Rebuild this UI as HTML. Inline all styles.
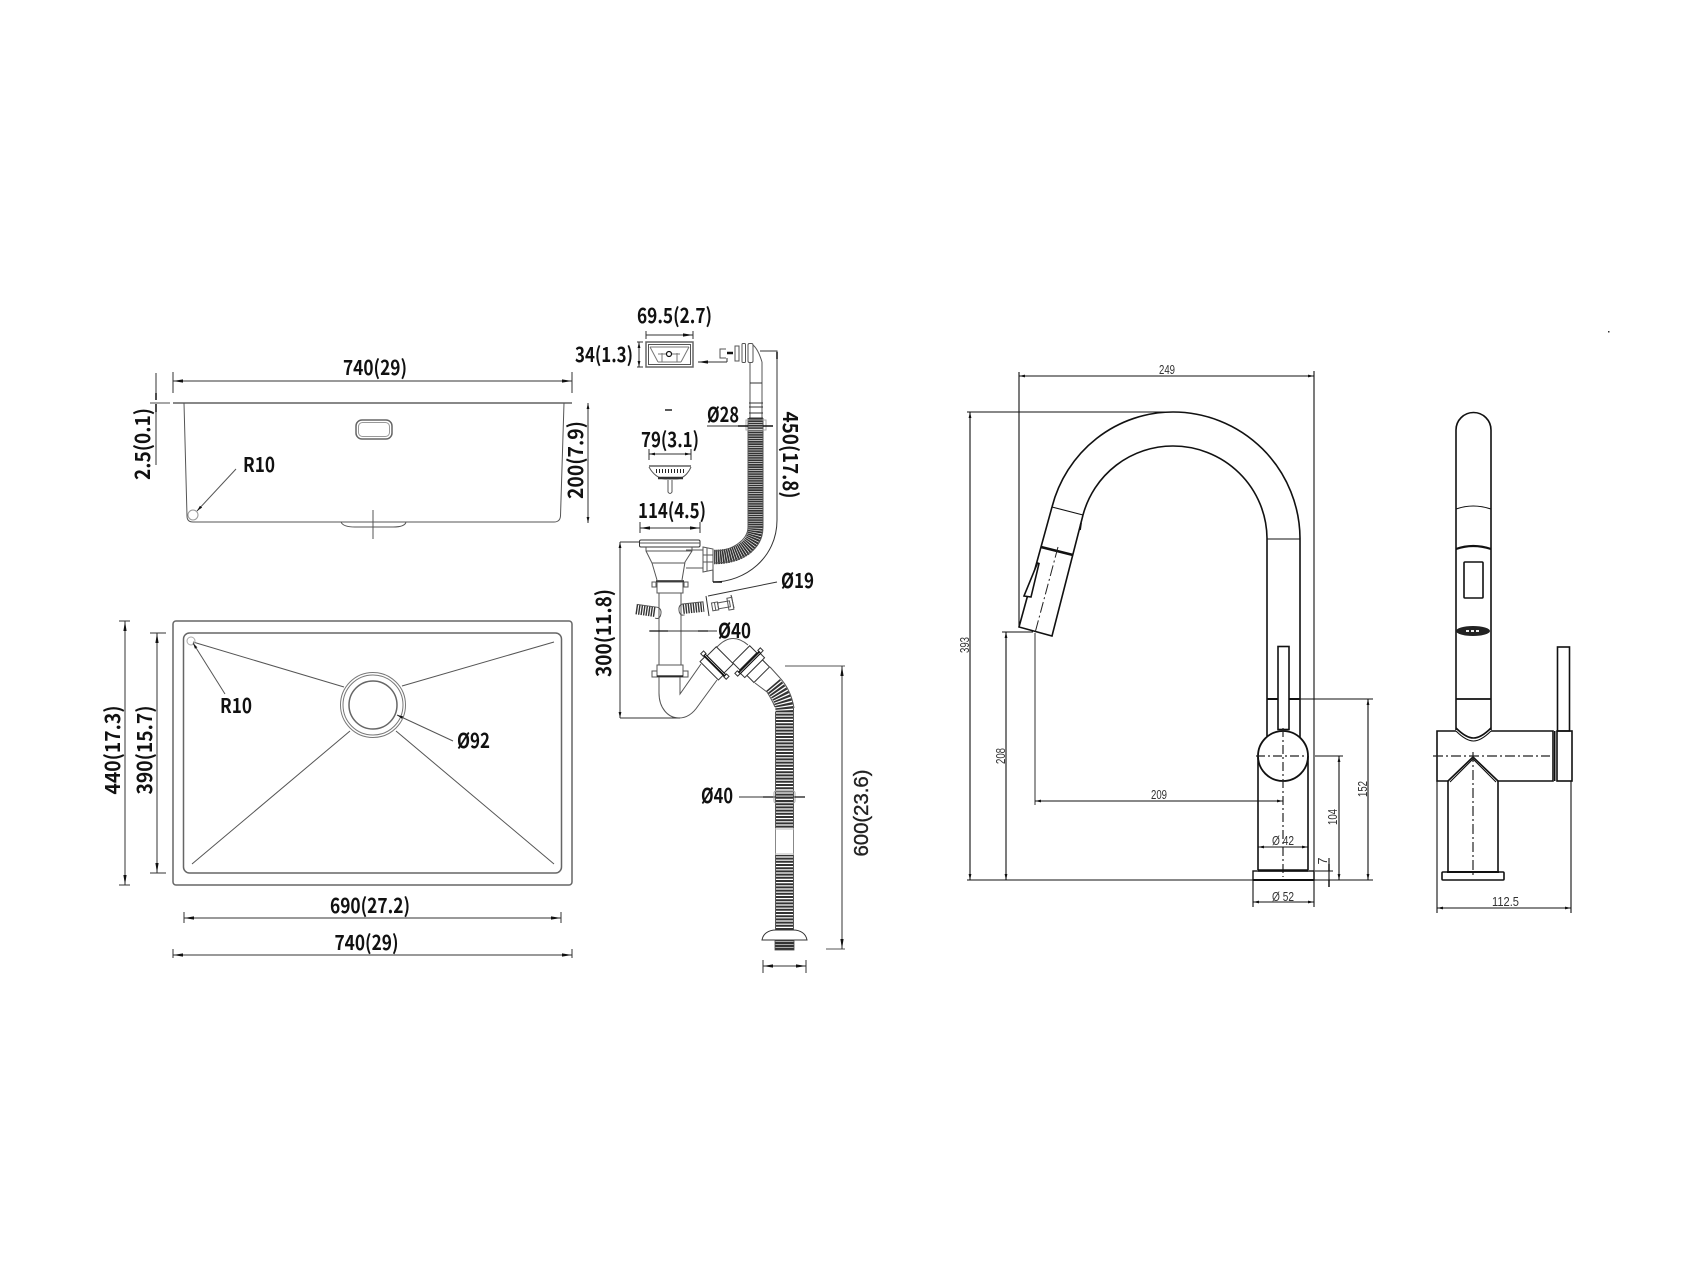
<!DOCTYPE html>
<html><head><meta charset="utf-8"><style>
html,body{margin:0;padding:0;background:#fff;width:1707px;height:1280px;overflow:hidden}
svg{display:block}
.b{font-family:"Noto Sans CJK SC","Liberation Sans",sans-serif;font-weight:700;font-size:20.5px;fill:#111}
.n{font-family:"Liberation Sans",sans-serif;font-size:20px;fill:#222;stroke:#222;stroke-width:.35}
.s{font-family:"Liberation Sans",sans-serif;font-size:12.5px;fill:#333}
.g{stroke:#666;fill:none;stroke-width:1.5}
.t{stroke:#555;fill:none;stroke-width:1}
.d{stroke:#333;fill:none;stroke-width:1}
.k{stroke:#111;fill:none;stroke-width:1.6}
.f{stroke:#111;fill:none;stroke-width:1.1}
.w{stroke:#333;fill:#fff;stroke-width:1}
</style></head><body>
<svg width="1707" height="1280" viewBox="0 0 1707 1280" xmlns="http://www.w3.org/2000/svg">
<defs>
<marker id="a" viewBox="0 0 10 4" refX="10" refY="2" markerWidth="10" markerHeight="4" markerUnits="userSpaceOnUse" orient="auto-start-reverse"><path d="M10 2L0 0.4V3.6Z" fill="#111"/></marker>
<marker id="c" viewBox="0 0 6 4" refX="6" refY="2" markerWidth="6" markerHeight="4" markerUnits="userSpaceOnUse" orient="auto-start-reverse"><path d="M6 2L0 0.6V3.4Z" fill="#111"/></marker>
<pattern id="hs" width="4" height="3" patternUnits="userSpaceOnUse"><rect width="4" height="3" fill="#aaa"/><rect width="4" height="2" fill="#333"/></pattern>
</defs>

<!-- SINK SIDE VIEW -->
<path class="d" d="M173 372V393M572 372V393"/>
<path class="d" marker-start="url(#a)" marker-end="url(#a)" d="M173 381H572"/>
<path d="M173 403H572" stroke="#888" stroke-width="2"/>
<path d="M150 403H170" stroke="#888" stroke-width="1.5"/>
<path class="t" d="M184 403L187 516Q187 522 193 522H554Q560 522 560.5 516L564 403"/>
<path class="t" d="M341 522Q343 527 355 527H393Q405 527 406 522M373 510V539"/>
<rect x="356" y="420" width="36" height="19" rx="6" class="g"/>
<rect x="358.500" y="422.500" width="31" height="14" rx="4" class="t" style="stroke:#999"/>
<circle cx="193" cy="515" r="5" class="t" style="stroke:#999"/>
<path class="t" marker-end="url(#c)" d="M236 469L197 511"/>
<path class="d" d="M156 373V397M156 409V465"/>
<path d="M156 393V400M156 404V412" stroke="#111" stroke-width="1.5"/>
<path class="d" marker-start="url(#c)" marker-end="url(#c)" d="M588 403V523"/>
<text class="b" x="375" y="375" text-anchor="middle" textLength="64" lengthAdjust="spacingAndGlyphs">740(29)</text>
<text class="b" x="243" y="472" textLength="32" lengthAdjust="spacingAndGlyphs">R10</text>
<text class="b" transform="translate(150,444) rotate(-90)" text-anchor="middle" textLength="72" lengthAdjust="spacingAndGlyphs">2.5(0.1)</text>
<text class="b" transform="translate(583,460) rotate(-90)" text-anchor="middle" textLength="78" lengthAdjust="spacingAndGlyphs">200(7.9)</text>

<!-- SINK TOP VIEW -->
<rect x="173" y="621" width="399" height="264" rx="3" class="g"/>
<rect x="183.500" y="633" width="378" height="240" rx="6" class="g"/>
<path class="t" d="M193 642L344 687M402 686L554 642M192 864L350 731M396 731L554 864"/>
<circle cx="373" cy="705" r="32.500" class="t" style="stroke:#777"/>
<circle cx="373" cy="705" r="30" class="t" style="stroke:#777"/>
<circle cx="373" cy="705" r="24" class="g"/>
<circle cx="191" cy="641" r="4" class="t" style="stroke:#aaa"/>
<path class="t" marker-end="url(#c)" d="M225 694L193 643"/>
<path class="t" marker-end="url(#c)" d="M453 741L397 715"/>
<path class="d" d="M119 621H130M119 885H130M150 633H166M150 873H166"/>
<path class="d" marker-start="url(#a)" marker-end="url(#a)" d="M125 621V885"/>
<path class="d" marker-start="url(#a)" marker-end="url(#a)" d="M157 633V873"/>
<path class="d" d="M184 912V923M561 912V923M173 949V958M572 949V958"/>
<path class="d" marker-start="url(#a)" marker-end="url(#a)" d="M184 918H561"/>
<path class="d" marker-start="url(#a)" marker-end="url(#a)" d="M173 955H572"/>
<text class="b" transform="translate(120,750) rotate(-90)" text-anchor="middle" textLength="89" lengthAdjust="spacingAndGlyphs">440(17.3)</text>
<text class="b" transform="translate(152,750) rotate(-90)" text-anchor="middle" textLength="89" lengthAdjust="spacingAndGlyphs">390(15.7)</text>
<text class="b" x="220" y="713" textLength="32" lengthAdjust="spacingAndGlyphs">R10</text>
<text class="b" x="457" y="748" textLength="33" lengthAdjust="spacingAndGlyphs">Ø92</text>
<text class="b" x="370" y="913" text-anchor="middle" textLength="80" lengthAdjust="spacingAndGlyphs">690(27.2)</text>
<text class="b" x="366.500" y="950" text-anchor="middle" textLength="64" lengthAdjust="spacingAndGlyphs">740(29)</text>

<!-- OVERFLOW -->
<text class="b" x="637" y="323" textLength="75" lengthAdjust="spacingAndGlyphs">69.5(2.7)</text>
<text class="b" x="575" y="362" textLength="58" lengthAdjust="spacingAndGlyphs">34(1.3)</text>
<path class="d" d="M646 331V339M693 331V339M637 342H643M637 367H643"/>
<path class="d" marker-end="url(#a)" d="M646 335H693"/>
<path class="d" marker-start="url(#c)" marker-end="url(#c)" d="M639 342V367"/>
<rect x="646" y="342" width="47" height="25" class="g"/>
<rect x="648.500" y="344.500" width="42" height="20" class="t"/>
<path class="t" d="M650 347L658 362M689 347L681 362M650 347H689M658 362H681M662 353V362M677 353V362M658 354H680" style="stroke:#777"/>
<circle cx="669" cy="354" r="2.500" fill="#fff" stroke="#111" stroke-width="1.2"/>
<path class="d" marker-end="url(#a)" d="M727 362H698"/>
<path class="d" d="M727 358V362"/>
<path class="t" d="M726 349H720V358H726"/>
<path d="M727 353H733" stroke="#111" stroke-width="2.500"/>
<rect x="735" y="346" width="4" height="15" class="t"/>
<rect x="742" y="343.500" width="3.500" height="19" rx="1" class="t"/>
<rect x="748" y="343.500" width="5" height="19" rx="1.500" class="t"/>
<path class="t" d="M753 345Q758 349 762 362M750 362V418M762 362V418"/>
<path class="d" d="M750 383H762M749 403H763M749 407H763M749 413H763M749 418H763"/>
<!-- hose 1 -->
<path d="M755.500 418V527C755.500 548 736 557 714 557" fill="none" stroke="#333" stroke-width="14.500" stroke-dasharray="1.700 0.600"/>
<path class="t" d="M748 418V527C748 540 732 551 714 551M763 418V527C763 552 738 563 714 563"/>
<rect x="746" y="420" width="20" height="10" fill="none" stroke="#aaa" stroke-width="1"/>
<path d="M707 426H773" class="d"/>
<path d="M738 426H748M773 426H763" stroke="#111" stroke-width="1.500"/>
<text class="b" x="707" y="422" textLength="32" lengthAdjust="spacingAndGlyphs">Ø28</text>
<path d="M665 410H672" stroke="#222" stroke-width="1.500"/>
<!-- 450 -->
<path class="d" d="M760 351H777V520C777 558 745 582 713 582"/>
<path class="d" d="M713 570V582"/>
<path d="M713 582H722" stroke="#111" stroke-width="1.500"/>
<path d="M777 352V359" stroke="#111" stroke-width="1.500"/>
<text class="b" transform="translate(783,455) rotate(90)" text-anchor="middle" textLength="87" lengthAdjust="spacingAndGlyphs">450(17.8)</text>

<!-- STRAINER -->
<text class="b" x="641" y="447" textLength="58" lengthAdjust="spacingAndGlyphs">79(3.1)</text>
<path class="d" d="M649 449V460M691 449V460"/>
<path class="d" marker-start="url(#c)" marker-end="url(#c)" d="M649 454H691"/>
<path class="f" d="M649 466H691"/>
<path class="t" d="M649 467Q655 478 665 479H677Q686 478 691 467"/>
<path d="M656 471H684" stroke="#222" stroke-width="4" stroke-dasharray="1 2" fill="none"/>
<path d="M658 478H683" stroke="#333" stroke-width="2.500"/>
<path class="t" d="M668 480V492Q670 495 672 492V480"/>
<text class="b" x="638" y="518" textLength="68" lengthAdjust="spacingAndGlyphs">114(4.5)</text>
<path class="d" d="M640 522V533M700 522V533"/>
<path class="d" marker-start="url(#a)" marker-end="url(#a)" d="M640 528H700"/>

<!-- DRAIN ASSEMBLY -->
<rect x="639.500" y="540" width="60.500" height="7" rx="1.500" class="t" style="stroke:#333"/>
<path class="t" d="M640 543H700"/>
<path class="t" d="M646 547V551L652 563L657 580M692 547V551L685 562L682 580M646 551H692M652 563H685"/>
<path class="t" d="M686 550H703M686 568H703"/>
<path class="t" d="M703 547L713 549V570L703 572Z"/>
<path class="t" d="M707 548V571M703 555H713M703 562H713"/>
<rect x="652" y="582" width="4" height="5" class="t"/><rect x="684" y="582" width="4" height="5" class="t"/>
<path d="M656 581H684" stroke="#222" stroke-width="1.500"/>
<rect x="657" y="582" width="26" height="11" class="t"/>
<path class="t" d="M659 593V665M681 593V665"/>
<path class="d" d="M649 631H717"/>
<path d="M650 631H660M668 631H658M708 631H698" stroke="#111" stroke-width="1.200"/>
<text class="b" x="718" y="638" textLength="33" lengthAdjust="spacingAndGlyphs">Ø40</text>
<rect x="657" y="665" width="26" height="12" class="t"/>
<rect x="652" y="671" width="5" height="6" class="t"/><rect x="683" y="671" width="5" height="6" class="t"/>
<path d="M657 676H683" stroke="#111" stroke-width="1.300"/>
<path class="t" d="M659 677V693C659 708 668 718 679 718C688 718 694 712 698 706L717 680M680 677V694L701 664"/>
<!-- side hoses -->
<g transform="translate(648,611) rotate(8)"><path d="M-12 0H8" stroke="#333" stroke-width="10" stroke-dasharray="1.400 1.100" fill="none"/><path class="t" d="M-12 -5H9Q14 -4 13 3Q12 7 8 6"/></g>
<g transform="translate(692,608) rotate(-6)"><path d="M-9 0H12" stroke="#333" stroke-width="10" stroke-dasharray="1.400 1.100" fill="none"/><path class="t" d="M12 -5H-9Q-14 -4 -13 3Q-12 7 -8 6"/></g>
<!-- Ø19 -->
<path class="d" d="M777 582L708 596M706 596L709 616M731 595L734 608"/>
<g transform="translate(723,605) rotate(-10)"><rect x="-11" y="-4" width="6" height="8" class="t"/><rect x="-5" y="-3" width="12" height="6" class="t"/><rect x="5" y="-6" width="5" height="12" class="t"/><path class="t" d="M-8 -4V4"/></g>
<text class="b" x="781" y="588" textLength="33" lengthAdjust="spacingAndGlyphs">Ø19</text>
<!-- 300 -->
<path class="d" d="M620 542H640M620 718H680"/>
<path class="d" marker-start="url(#c)" marker-end="url(#c)" d="M620 542V718"/>
<text class="b" transform="translate(611,633) rotate(-90)" text-anchor="middle" textLength="88" lengthAdjust="spacingAndGlyphs">300(11.8)</text>
<!-- elbow couplings -->
<path class="t" d="M717 647Q732 631 748 645"/>
<g transform="translate(717,663) rotate(-45)">
 <rect x="-11" y="-13" width="7" height="26" class="w"/>
 <rect x="-2" y="-12" width="13" height="24" class="w"/>
 <rect x="-5" y="-18" width="4" height="3.500" class="w"/>
 <rect x="-5" y="14.500" width="4" height="3.500" class="w"/>
 <path d="M-4 -15V15" stroke="#111" stroke-width="1.800"/>
 <path d="M-2 -15V15" stroke="#111" stroke-width="1"/>
</g>
<g transform="translate(749,662) rotate(45)">
 <rect x="-11" y="-12" width="10" height="24" class="w"/>
 <rect x="8" y="-11" width="10" height="22" class="w"/>
 <rect x="2" y="-14" width="6" height="28" class="w"/>
 <rect x="-2" y="-18" width="4" height="3.500" class="w"/>
 <rect x="-2" y="14.500" width="4" height="3.500" class="w"/>
 <path d="M0 -15V15" stroke="#111" stroke-width="1.800"/>
 <path d="M2 -15V15" stroke="#111" stroke-width="1"/>
</g>
<path class="t" d="M755 683L767 692M770 667L780 678"/>
<!-- hose 2 -->
<path d="M784.500 930V712C784.500 700 779 692 773 685" fill="none" stroke="#333" stroke-width="18" stroke-dasharray="2 1.200"/>
<rect x="776" y="828" width="18" height="27" fill="#fff"/>
<path class="t" d="M775.500 712V828M793.500 708V828M775.500 855V930M793.500 855V930M775 707Q771 698 767 692M794 708Q791 690 780 678"/>
<path d="M775.500 828V855M793.500 828V855" stroke="#888" stroke-width="1"/>
<path d="M775 829H794M775 854H794" stroke="#bbb" stroke-width="1"/>
<rect x="774" y="791" width="21" height="12" rx="2" fill="none" stroke="#aaa" stroke-width="1"/>
<path class="t" d="M762 940C763 934 768 930 776 930H793C801 930 806 934 807 940H762Z" style="stroke:#333"/>
<rect x="775" y="940" width="19" height="10" fill="url(#hs)" stroke="#444" stroke-width="0.800"/>
<path class="d" d="M739 797H805"/>
<path d="M763 797H773M805 797H795" stroke="#111" stroke-width="1.300"/>
<text class="b" x="701" y="803" textLength="32" lengthAdjust="spacingAndGlyphs">Ø40</text>
<path class="d" d="M763 960V973M806 960V973"/>
<path class="d" marker-start="url(#a)" marker-end="url(#a)" d="M763 966H806"/>
<path class="t" d="M785 666H845M826 949H845"/>
<path class="d" marker-start="url(#a)" marker-end="url(#a)" d="M842 666V949"/>
<text class="n" transform="translate(868,813) rotate(-90)" text-anchor="middle" textLength="87" lengthAdjust="spacingAndGlyphs">600(23.6)</text>

<!-- FAUCET FRONT -->
<path class="f" d="M1019 372V627M1314 371V907"/>
<path class="f" marker-start="url(#c)" marker-end="url(#c)" d="M1019 376H1314"/>
<path class="f" d="M967 412H1173M967 880H1373"/>
<path class="f" marker-start="url(#c)" marker-end="url(#c)" d="M970 412V880"/>
<path class="f" marker-start="url(#c)" marker-end="url(#c)" d="M1006 632V880"/>
<path class="f" d="M1002 632H1033"/>
<path stroke="#444" fill="none" stroke-width="1.100" d="M1035 633V805"/>
<path class="f" marker-start="url(#c)" marker-end="url(#c)" d="M1035 801H1283"/>
<path class="k" d="M1052 507A125 127 0 0 1 1173 412A127 127 0 0 1 1300 538V738"/>
<path class="k" d="M1083 515A93 93 0 0 1 1173 446A94 93 0 0 1 1267 538V738"/>
<path class="f" d="M1052 507L1083 515M1267 539H1300"/>
<path class="k" d="M1052 507L1019 627L1052 636L1083 515"/>
<path d="M1041 547L1073 555" stroke="#111" stroke-width="2.600"/>
<path stroke="#222" stroke-width="1" stroke-dasharray="11 3 2 3" fill="none" d="M1058 547L1035 633"/>
<path d="M1081 523L1080 530" stroke="#111" stroke-width="1.800"/>
<path d="M1037.500 563L1039 563.500L1031 597L1024 596Z" fill="#fff" stroke="#111" stroke-width="1.600"/>
<path d="M1267 699H1278M1289 699H1300" stroke="#111" stroke-width="2"/>
<rect x="1278" y="646.500" width="11" height="83" class="k" style="fill:#fff"/>
<path class="f" d="M1300 699H1373"/>
<path class="f" marker-start="url(#c)" marker-end="url(#c)" d="M1368 699V880"/>
<path class="k" d="M1258 756V870M1308 756V870"/>
<circle cx="1283" cy="756" r="25" fill="#fff" stroke="#111" stroke-width="1.800"/>
<path d="M1256 756H1308" stroke="#222" stroke-width="1.300" stroke-dasharray="9 3 2 3" fill="none"/>
<path d="M1283 728V877" stroke="#222" stroke-width="1.200" stroke-dasharray="9 3 2 3" fill="none"/>
<path class="f" d="M1315 756H1343"/>
<path class="f" marker-start="url(#c)" marker-end="url(#c)" d="M1339 756V880"/>
<rect x="1253" y="871" width="61" height="9" fill="none" stroke="#111" stroke-width="1.400"/>
<path d="M1258 870.500H1308" stroke="#111" stroke-width="2.400"/>
<path d="M1253 880H1314" stroke="#111" stroke-width="2"/>
<path class="f" d="M1315 871H1333M1329 858V887"/>
<path d="M1329 864V871M1329 880V887" stroke="#111" stroke-width="1.400"/>
<path class="f" marker-start="url(#c)" marker-end="url(#c)" d="M1258 847H1308"/>
<path class="f" d="M1253 880V907"/>
<path class="f" marker-start="url(#c)" marker-end="url(#c)" d="M1253 902H1314"/>
<text class="s" x="1167" y="374" text-anchor="middle" textLength="16" lengthAdjust="spacingAndGlyphs">249</text>
<text class="s" transform="translate(969,645) rotate(-90)" text-anchor="middle" textLength="16" lengthAdjust="spacingAndGlyphs">393</text>
<text class="s" transform="translate(1005,756) rotate(-90)" text-anchor="middle" textLength="16" lengthAdjust="spacingAndGlyphs">208</text>
<text class="s" x="1159" y="799" text-anchor="middle" textLength="16" lengthAdjust="spacingAndGlyphs">209</text>
<text class="s" transform="translate(1367,789) rotate(-90)" text-anchor="middle" textLength="16" lengthAdjust="spacingAndGlyphs">152</text>
<text class="s" transform="translate(1337,817) rotate(-90)" text-anchor="middle" textLength="16" lengthAdjust="spacingAndGlyphs">104</text>
<text class="s" transform="translate(1327,861) rotate(-90)" text-anchor="middle">7</text>
<text class="s" x="1283" y="845" text-anchor="middle" textLength="22" lengthAdjust="spacingAndGlyphs">Ø 42</text>
<text class="s" x="1283" y="901" text-anchor="middle" textLength="22" lengthAdjust="spacingAndGlyphs">Ø 52</text>

<!-- FAUCET SIDE -->
<path class="k" d="M1456 730V430A17.500 17.500 0 0 1 1491 430V730"/>
<path class="f" d="M1456 509Q1473 503 1491 509"/>
<path d="M1456 549Q1473 543 1491 549" stroke="#111" stroke-width="2.200" fill="none"/>
<rect x="1464" y="562" width="19" height="36" rx="1" class="k"/>
<ellipse cx="1473" cy="631" rx="17" ry="5" fill="#222"/>
<path d="M1466 631H1481" stroke="#eee" stroke-width="2" stroke-dasharray="3 2"/>
<path d="M1456 699H1491" stroke="#111" stroke-width="1.800"/>
<path class="k" d="M1456 728Q1466 738 1473.500 738Q1481 738 1491 728"/>
<path class="f" d="M1456 731Q1466 741 1473.500 741Q1481 741 1491 731"/>
<path class="k" d="M1456 731H1437V781H1448M1491 731H1553V781H1498"/>
<rect x="1554" y="731" width="1.500" height="50" fill="#111"/>
<rect x="1557" y="731" width="15" height="50" class="k"/>
<rect x="1557.500" y="647" width="12" height="84" class="k"/>
<path class="k" d="M1448 781L1473 757L1498 781"/>
<path class="f" d="M1450 782L1473 759L1496 782"/>
<path class="k" d="M1448 781V872M1498 781V872"/>
<rect x="1442" y="872" width="62" height="8" rx="1" class="k"/>
<path d="M1447 872H1499" stroke="#111" stroke-width="2"/>
<path d="M1433 756H1550" stroke="#222" stroke-width="1.200" stroke-dasharray="10 3 2 3"/>
<path d="M1473 752V877" stroke="#222" stroke-width="1.200" stroke-dasharray="10 3 2 3"/>
<path class="f" d="M1437 781V913M1571 781V913"/>
<path class="f" marker-start="url(#c)" marker-end="url(#c)" d="M1437 908H1571"/>
<text class="s" x="1505.500" y="906" text-anchor="middle" textLength="27" lengthAdjust="spacingAndGlyphs">112.5</text>
<rect x="1608" y="331" width="1.500" height="1.500" fill="#333"/>
</svg>
</body></html>
